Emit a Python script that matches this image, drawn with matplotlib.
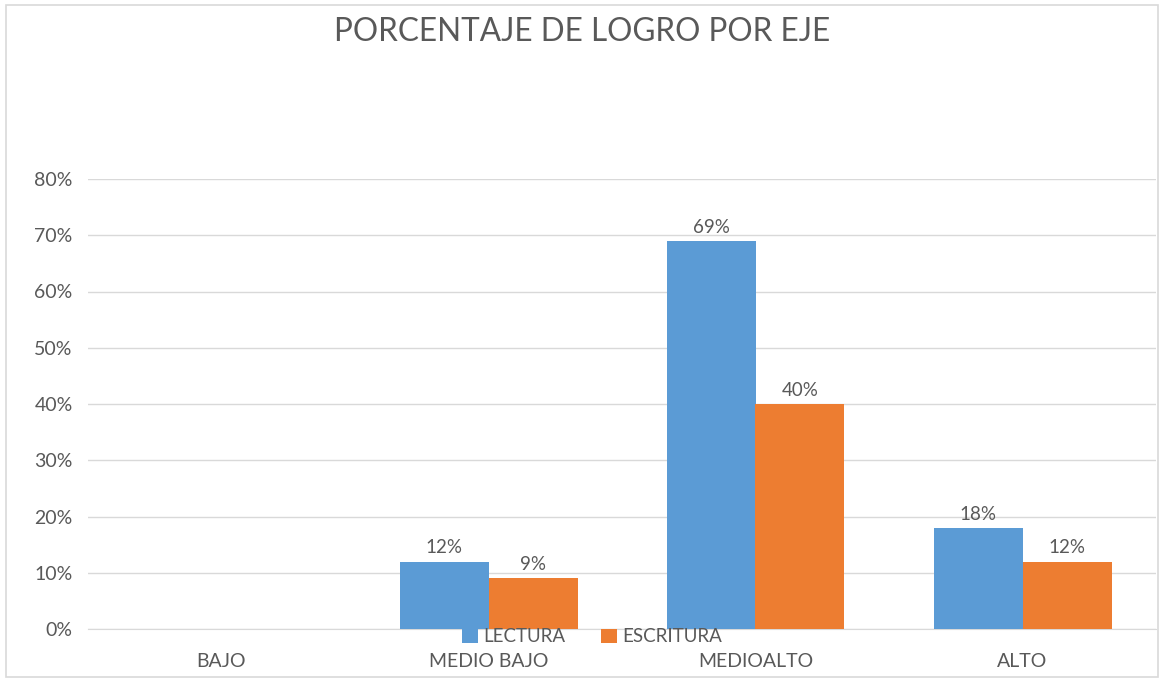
import numpy as np
import matplotlib
matplotlib.use('Agg')
import matplotlib.pyplot as plt
from matplotlib.patches import Rectangle

categories = ['BAJO', 'MEDIO BAJO', 'MEDIOALTO', 'ALTO']
lectura = [np.nan, 12, 69, 18]
escritura = [np.nan, 9, 40, 12]
series_names = ['LECTURA', 'ESCRITURA']
yticks = [0, 10, 20, 30, 40, 50, 60, 70, 80]

plt.rcParams['font.family'] = ['Lato', 'DejaVu Sans']
txt_color = '#595959'

fig = plt.figure(figsize=(11.63, 6.81), dpi=100)
ax = fig.add_axes([88/1163, 1 - 629/681, (1156 - 88)/1163, (629 - 179)/681])

# light border around the chart area
fig.patches.append(Rectangle((6/1163, 4/681), 1152/1163, 672/681, transform=fig.transFigure,
                             fill=False, edgecolor='#D9D9D9', linewidth=1.2))

x = np.arange(len(categories))
w = 1/3
b1 = ax.bar(x - w/2, lectura, w, color='#5B9BD5', label=series_names[0], zorder=3)
b2 = ax.bar(x + w/2, escritura, w, color='#ED7D31', label=series_names[1], zorder=3)

for bars, vals in ((b1, lectura), (b2, escritura)):
    for rect, v in zip(bars, vals):
        if np.isnan(v):
            continue
        ax.text(rect.get_x() + rect.get_width()/2, v + 0.9, '%d%%' % v,
                ha='center', va='bottom', fontsize=13.5, color=txt_color)

ax.set_xlim(-0.5, 3.5)
ax.set_ylim(0, 80)
ax.set_yticks(yticks)
ax.set_yticklabels(['%d%%' % t for t in yticks])
ax.set_xticks(x)
ax.set_xticklabels(categories)
ax.tick_params(axis='both', length=0, labelsize=14, labelcolor=txt_color)
ax.tick_params(axis='y', pad=11)
ax.tick_params(axis='x', pad=17)
ax.grid(axis='y', color='#D9D9D9', linewidth=1, zorder=0)
for s in ['top', 'right', 'left']:
    ax.spines[s].set_visible(False)
ax.spines['bottom'].set_color('#D9D9D9')

fig.text(582/1163, 1 - 32/681, 'PORCENTAJE DE LOGRO POR EJE', ha='center', va='center',
         fontsize=22.7, color=txt_color)

leg = fig.legend(loc='center', bbox_to_anchor=(592/1163, 1 - 637/681), ncol=2, frameon=False,
                 fontsize=13.5, handlelength=0.85, handleheight=0.85, handletextpad=0.3,
                 columnspacing=1.9, borderpad=0)
for t in leg.get_texts():
    t.set_color(txt_color)

fig.savefig('out.png', dpi=100)
